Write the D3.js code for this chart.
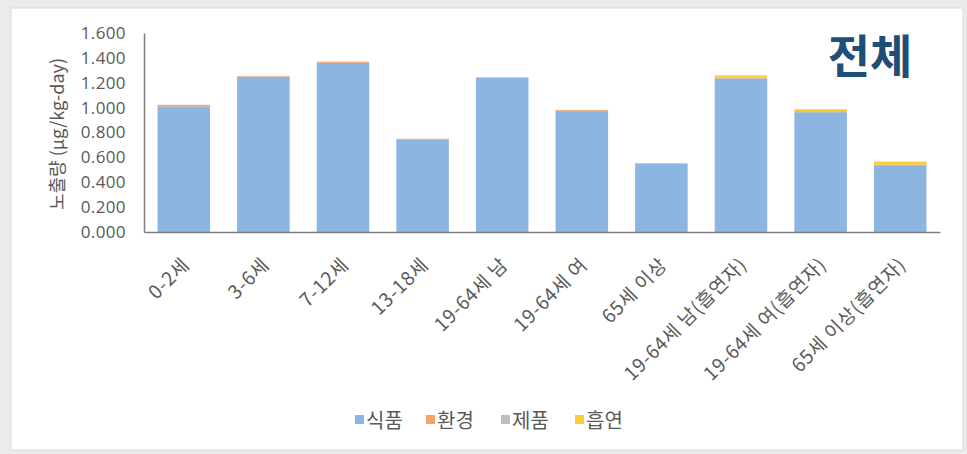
<!DOCTYPE html>
<html>
<head>
<meta charset="utf-8">
<script src="https://cdn.jsdelivr.net/npm/d3@7"></script>
<style>
  html, body { margin: 0; padding: 0; background: #ebebeb; }
  svg { display: block; }
  text { font-family: "Noto Sans CJK KR", "Noto Sans", sans-serif; }
</style>
</head>
<body>
<svg id="chart" width="967" height="454"></svg>
<script>
// Age groups on the x axis
const categories = ["0-2세", "3-6세", "7-12세", "13-18세", "19-64세 남", "19-64세 여", "65세 이상",
  "19-64세 남(흡연자)", "19-64세 여(흡연자)", "65세 이상(흡연자)"];

// Exposure by source (μg/kg-day)
const food    = [1.010, 1.248, 1.360, 0.745, 1.240, 0.972, 0.550, 1.235, 0.963, 0.537];
const env     = [0.012, 0.005, 0.008, 0.004, 0.004, 0.008, 0.003, 0.004, 0.008, 0.003];
const product = [0.001, 0.001, 0.001, 0.001, 0.001, 0.001, 0.001, 0.001, 0.001, 0.001];
const smoking = [0, 0, 0, 0, 0, 0, 0, 0.020, 0.015, 0.025];

const seriesNames = ["식품", "환경", "제품", "흡연"];
const seriesKeys = ["food", "env", "product", "smoking"];
const seriesColors = ["#8db5e1", "#f4a36b", "#bdbdbd", "#fccb3a"];

const yTicks = [0, 0.2, 0.4, 0.6, 0.8, 1.0, 1.2, 1.4, 1.6];

const rows = categories.map((c, i) => ({
  category: c, food: food[i], env: env[i], product: product[i], smoking: smoking[i]
}));

const svg = d3.select("#chart");
const textColor = "#595959";

// White chart panel
svg.append("rect")
  .attr("x", 11).attr("y", 8).attr("width", 952).attr("height", 442)
  .attr("fill", "#ffffff").attr("stroke", "#d9d9d9").attr("stroke-width", 1);

const plot = { left: 144, right: 940, top: 33, bottom: 232 };

const x = d3.scaleBand().domain(categories).range([plot.left, plot.right])
  .paddingInner(0.34).paddingOuter(0.17);
const y = d3.scaleLinear().domain([0, 1.6]).range([plot.bottom, plot.top]);

const stacked = d3.stack().keys(seriesKeys)(rows);

svg.append("g").selectAll("g").data(stacked).join("g")
  .attr("fill", (d, i) => seriesColors[i])
  .selectAll("rect").data(d => d).join("rect")
  .attr("x", d => x(d.data.category))
  .attr("width", x.bandwidth())
  .attr("y", d => y(d[1]))
  .attr("height", d => Math.max(0, y(d[0]) - y(d[1])));

// Y axis
const yAxis = svg.append("g").attr("transform", `translate(${plot.left},0)`)
  .call(d3.axisLeft(y).tickValues(yTicks).tickFormat(d3.format(".3f")).tickSize(0).tickPadding(18));
yAxis.select(".domain").attr("stroke", "#7f7f7f").attr("stroke-width", 1.5);
yAxis.selectAll("text").attr("fill", textColor).style("font-size", "17px")
  .style("font-family", "'Open Sans', sans-serif").style("letter-spacing", "0.4px");

// X axis
const xAxis = svg.append("g").attr("transform", `translate(0,${plot.bottom})`)
  .call(d3.axisBottom(x).tickSize(0).tickPadding(0));
xAxis.select(".domain").attr("stroke", "#7f7f7f").attr("stroke-width", 1.5);
xAxis.selectAll("text")
  .attr("fill", textColor).style("font-size", "19px").style("letter-spacing", "0.8px")
  .attr("text-anchor", "end").attr("dy", null).attr("y", 0)
  .attr("transform", "translate(7,34) rotate(-45)");

// Y axis title
svg.append("text")
  .attr("transform", "translate(64,134) rotate(-90)")
  .attr("text-anchor", "middle").attr("fill", textColor)
  .style("font-size", "18px")
  .text("노출량 (μg/kg-day)");

// Panel title
svg.append("text")
  .attr("x", 870).attr("y", 73).attr("text-anchor", "middle")
  .attr("fill", "#1f4e79").style("font-size", "46px").style("font-weight", "bold")
  .text("전체");

// Legend
const legendX = [355, 426, 501, 575];
const legend = svg.append("g");
seriesNames.forEach((name, i) => {
  legend.append("rect").attr("x", legendX[i]).attr("y", 415).attr("width", 9).attr("height", 9)
    .attr("fill", seriesColors[i]);
  legend.append("text").attr("x", legendX[i] + 11).attr("y", 428)
    .attr("fill", textColor).style("font-size", "20px").text(name);
});
</script>
</body>
</html>
